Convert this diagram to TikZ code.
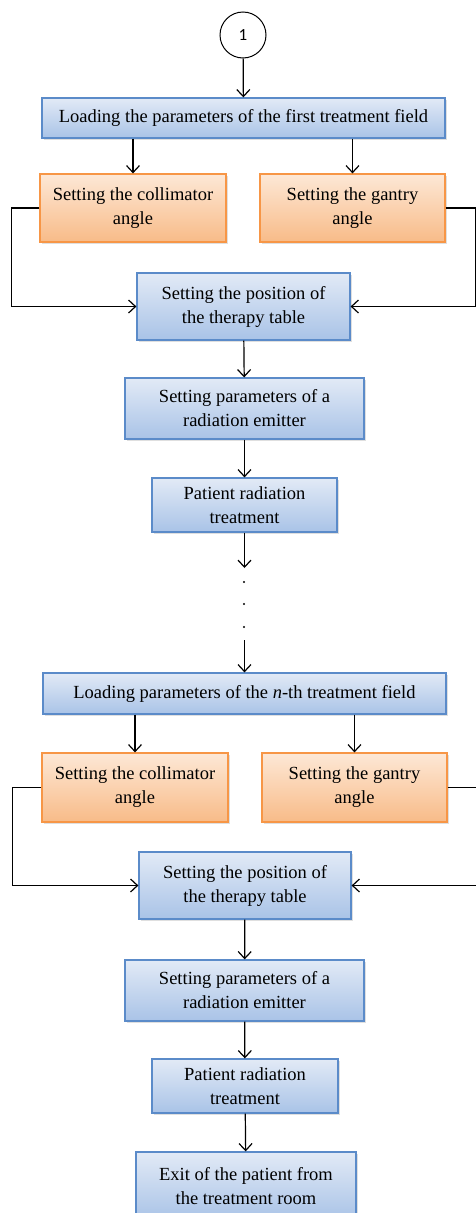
\documentclass[tikz,border=0pt]{standalone}
\usepackage{fontspec}
\setmainfont{Liberation Serif}
\newfontfamily\numfont{Carlito}
\usetikzlibrary{arrows.meta,shadows}
\definecolor{boxblue}{HTML}{5B8BC9}
\definecolor{blueTop}{HTML}{E2EAF6}
\definecolor{blueBot}{HTML}{A9C3E7}
\definecolor{boxorange}{HTML}{F79646}
\definecolor{orangeTop}{HTML}{FDE8D6}
\definecolor{orangeBot}{HTML}{F8BB88}
\begin{document}
\begin{tikzpicture}[x=1pt, y=-1pt,
    every node/.style={font=\fontsize{18.5}{24}\selectfont, align=center, inner sep=0pt},
    bluebox/.style={draw=boxblue, line width=1.2pt, top color=blueTop, bottom color=blueBot,
        drop shadow={shadow xshift=1.5pt, shadow yshift=-2pt, opacity=0.25}},
    orangebox/.style={draw=boxorange, line width=1.2pt, top color=orangeTop, bottom color=orangeBot,
        drop shadow={shadow xshift=1.5pt, shadow yshift=-2pt, opacity=0.25}},
    arr/.style={line width=1.2pt, -{Straight Barb[length=7pt, width=13pt]}},
    dot/.style={circle, fill=black, minimum size=2.4pt}]
    \useasboundingbox (0, 0) rectangle (476, 1213);

    % Start connector
    \node[draw, circle, line width=1pt, minimum size=46pt, font=\numfont\fontsize{17}{19}\selectfont] (one) at (243, 35) {1};

    % First treatment field
    \node[bluebox, minimum width=403pt, minimum height=40pt] (load1) at (243.5, 118) {Loading the parameters of the first treatment field};
    \node[orangebox, minimum width=186pt, minimum height=68pt] (coll1) at (133, 208) {Setting the collimator\\angle};
    \node[orangebox, minimum width=185pt, minimum height=68pt] (gant1) at (352.5, 208) {Setting the gantry\\angle};
    \node[bluebox, minimum width=213pt, minimum height=67pt] (table1) at (243.5, 306.5) {Setting the position of\\the therapy table};
    \node[bluebox, minimum width=239pt, minimum height=61pt] (emit1) at (244.5, 408.5) {Setting parameters of a\\radiation emitter};
    \node[bluebox, minimum width=185pt, minimum height=54pt] (pat1) at (244.5, 505) {Patient radiation\\treatment};

    \draw[arr] (one) -- (load1);
    \draw[arr] (load1.south -| coll1.north) -- (coll1.north);
    \draw[arr] (load1.south -| gant1.north) -- (gant1.north);
    \draw[arr] (coll1.west) -- ++(-28, 0) |- (table1.west);
    \draw[arr] (gant1.east) -- ++(30, 0) |- (table1.east);
    \draw[arr] (table1) -- (emit1);
    \draw[arr] (emit1) -- (pat1);

    % Dots
    \coordinate (gapTop) at (244.5, 568);
    \coordinate (gapBot) at (244.5, 640);
    \draw[arr] (pat1) -- (gapTop);
    \node[dot] (dot1) at (244, 582) {};
    \node[dot] (dot2) at (244, 604) {};
    \node[dot] (dot3) at (244, 627) {};

    % n-th treatment field
    \node[bluebox, minimum width=403pt, minimum height=41pt] (loadn) at (244.5, 693.5) {Loading parameters of the \textit{n}-th treatment field};
    \node[orangebox, minimum width=186pt, minimum height=69pt] (colln) at (135, 787.5) {Setting the collimator\\angle};
    \node[orangebox, minimum width=185pt, minimum height=69pt] (gantn) at (354.5, 787.5) {Setting the gantry\\angle};
    \node[bluebox, minimum width=212pt, minimum height=67pt] (tablen) at (245, 885.5) {Setting the position of\\the therapy table};
    \node[bluebox, minimum width=239pt, minimum height=61pt] (emitn) at (244.5, 990.5) {Setting parameters of a\\radiation emitter};
    \node[bluebox, minimum width=186pt, minimum height=54pt] (patn) at (245, 1086) {Patient radiation\\treatment};
    \node[bluebox, minimum width=220pt, minimum height=68pt] (exit) at (246, 1186) {Exit of the patient from\\the treatment room};

    \draw[arr] (gapBot) -- (loadn);
    \draw[arr] (loadn.south -| colln.north) -- (colln.north);
    \draw[arr] (loadn.south -| gantn.north) -- (gantn.north);
    \draw[arr] (colln.west) -- ++(-29, 0) |- (tablen.west);
    \draw[arr] (gantn.east) -- ++(30, 0) |- (tablen.east);
    \draw[arr] (tablen) -- (emitn);
    \draw[arr] (emitn) -- (patn);
    \draw[arr] (patn) -- (exit);
\end{tikzpicture}
\end{document}
